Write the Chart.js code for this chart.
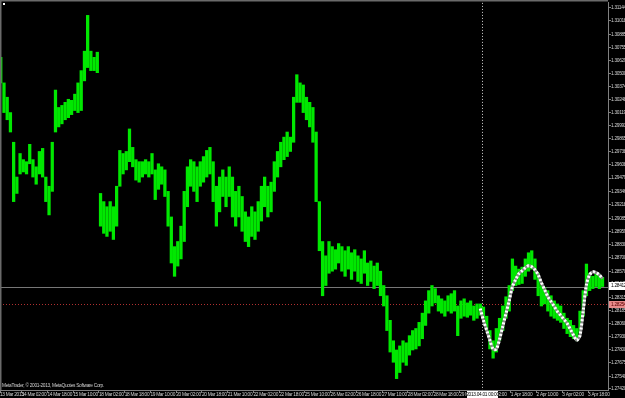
<!DOCTYPE html>
<html><head><meta charset="utf-8">
<script src="https://cdn.jsdelivr.net/npm/chart.js@4.4.0/dist/chart.umd.min.js"></script>
<style>html,body{margin:0;padding:0;background:#000;overflow:hidden}#wrap{position:relative;width:625px;height:398px}</style>
</head><body><div id="wrap"><canvas id="c" width="625" height="398"></canvas></div>
<script>
// ---- data (EURUSD, H1, 2-hour bars) ----
const barStartHour = 3;      // trading-hour index of first bar
const barStepHours = 2;
const highs = [1.3066,1.3041,1.3027,1.3012,1.2983,1.2949,1.2972,1.2966,1.2964,1.2981,
1.2966,1.2959,1.2974,1.2977,1.2949,1.2940,1.2983,1.3034,1.3017,1.3019,
1.3022,1.3025,1.3024,1.3030,1.3041,1.3053,1.3072,1.3107,1.3072,1.3066,
1.3071,1.2933,1.2925,1.2920,1.2925,1.2920,1.2940,1.2975,1.2972,1.2974,
1.2996,1.2978,1.2966,1.2964,1.2964,1.2966,1.2964,1.2972,1.2956,1.2962,
1.2959,1.2956,1.2935,1.2910,1.2881,1.2886,1.2901,1.2935,1.2959,1.2966,
1.2964,1.2959,1.2964,1.2969,1.2975,1.2978,1.2964,1.2940,1.2949,1.2956,
1.2949,1.2959,1.2949,1.2935,1.2940,1.2930,1.2915,1.2910,1.2920,1.2915,
1.2925,1.2940,1.2949,1.2940,1.2944,1.2964,1.2974,1.2983,1.2988,1.2993,
1.2988,1.3027,1.3049,1.3041,1.3039,1.3027,1.3022,1.3017,1.2993,1.2925,
1.2886,1.2872,1.2886,1.2881,1.2878,1.2884,1.2881,1.2877,1.2881,1.2875,
1.2878,1.2872,1.2869,1.2877,1.2865,1.2867,1.2862,1.2865,1.2857,1.2843,
1.2833,1.2809,1.2789,1.2780,1.2784,1.2789,1.2787,1.2794,1.2799,1.2801,
1.2807,1.2816,1.2828,1.2838,1.2843,1.2840,1.2833,1.2830,1.2828,1.2833,
1.2835,1.2838,1.2823,1.2828,1.2830,1.2826,1.2828,1.2823,1.2825,1.2825,
1.2822,1.2813,1.2799,1.2789,1.2801,1.2811,1.2823,1.2832,1.2843,1.2869,
1.2862,1.2859,1.2861,1.2869,1.2875,1.2877,1.2869,1.2855,1.2843,1.2841,
1.2838,1.2833,1.2828,1.2825,1.2823,1.2816,1.2811,1.2809,1.2804,1.2801,
1.2818,1.2838,1.2864,1.2855,1.2852,1.2855,1.2854,1.2851];
const lows = [1.3041,1.3012,1.3005,1.2993,1.2925,1.2933,1.2952,1.2954,1.2952,1.2962,
1.2949,1.2942,1.2952,1.2949,1.2925,1.2912,1.2935,1.2993,1.2998,1.3001,
1.3005,1.3007,1.3010,1.3014,1.3012,1.3014,1.3043,1.3056,1.3053,1.3053,
1.3051,1.2901,1.2894,1.2891,1.2896,1.2888,1.2901,1.2940,1.2952,1.2956,
1.2964,1.2959,1.2946,1.2944,1.2949,1.2952,1.2949,1.2952,1.2927,1.2937,
1.2942,1.2930,1.2901,1.2865,1.2852,1.2862,1.2869,1.2886,1.2920,1.2940,
1.2935,1.2925,1.2940,1.2944,1.2949,1.2952,1.2925,1.2901,1.2915,1.2930,
1.2920,1.2930,1.2910,1.2901,1.2910,1.2896,1.2886,1.2881,1.2891,1.2888,
1.2896,1.2906,1.2920,1.2910,1.2915,1.2935,1.2949,1.2959,1.2966,1.2969,
1.2974,1.2983,1.3022,1.3022,1.3012,1.3005,1.2998,1.2983,1.2925,1.2877,
1.2833,1.2843,1.2855,1.2857,1.2859,1.2865,1.2857,1.2852,1.2859,1.2849,
1.2857,1.2847,1.2845,1.2855,1.2843,1.2847,1.2840,1.2843,1.2833,1.2823,
1.2799,1.2778,1.2768,1.2752,1.2758,1.2768,1.2765,1.2775,1.2780,1.2781,
1.2784,1.2791,1.2804,1.2816,1.2823,1.2826,1.2818,1.2816,1.2813,1.2818,
1.2816,1.2818,1.2794,1.2811,1.2813,1.2812,1.2814,1.2809,1.2811,1.2814,
1.2811,1.2799,1.2781,1.2772,1.2778,1.2789,1.2799,1.2811,1.2818,1.2838,
1.2843,1.2844,1.2845,1.2852,1.2857,1.2859,1.2849,1.2833,1.2823,1.2825,
1.2818,1.2813,1.2811,1.2809,1.2807,1.2801,1.2796,1.2793,1.2791,1.2789,
1.2797,1.2813,1.2833,1.2838,1.2840,1.2842,1.2840,1.2842];
const forecastStartHour = 301;
const forecastStepHours = 2;
const forecast = [1.28205,1.28089,1.27992,1.27895,1.27808,1.27808,1.27905,1.28031,1.28157,1.28283,
1.28419,1.28487,1.28545,1.28574,1.28603,1.28623,1.28613,1.28584,1.28535,1.28458,
1.28390,1.28321,1.28273,1.28225,1.28176,1.28138,1.28099,1.28060,1.28002,1.27943,
1.27895,1.27943,1.28186,1.28438,1.28535,1.28564,1.28555,1.28535,1.28497];
const priceTickLabels = ['1.31144','1.31018','1.30885','1.30755','1.30629','1.30500','1.30374','1.30248','1.30119','1.29993',
'1.29865','1.29738','1.29608','1.29479','1.29346','1.29218','1.29085','1.28959','1.28830','1.28700',
'1.28570','1.28445','1.28315','1.28185','1.28060','1.27930','1.27800','1.27675','1.27540','1.27420'];
const firstTimeLabel = '13 Mar 2013';
const timeTickHours = [16,32,48,64,80,96,112,128,144,160,176,192,208,224,240,256,272,288,304,320,336,352,368];
const timeTickLabels = ['14 Mar 02:00','14 Mar 18:00','15 Mar 10:00','18 Mar 02:00','18 Mar 18:00','19 Mar 10:00',
'20 Mar 02:00','20 Mar 18:00','21 Mar 10:00','22 Mar 02:00','22 Mar 18:00','25 Mar 10:00','26 Mar 02:00',
'26 Mar 18:00','27 Mar 10:00','28 Mar 02:00','28 Mar 18:00','29 Mar 10:00','1 Apr 02:00','1 Apr 18:00',
'2 Apr 10:00','3 Apr 02:00','3 Apr 18:00'];
const separatorHour = 302;
const separatorLabel = '2013.04.01 00:00';
const bidPrice = 1.28412, bidLabel = '1.28412';
const markPrice = 1.28254, markLabel = '1.28254';
const copyright = 'MetaTrader, \u00A9 2001-2013, MetaQuotes Software Corp.';

const FONT = "'Liberation Sans',Arial,sans-serif";
const X_MIN = 2.52, X_MAX = 380.4;
const Y_MAX = 1.31192, Y_MIN = 1.27409;

const overlay = {
  id: 'overlay',
  beforeDraw(chart) {
    chart.ctx.letterSpacing = '-0.3px';
  },
  beforeDatasetsDraw(chart) {
    const {ctx, chartArea: a, scales: {x, y}} = chart;
    ctx.save();
    ctx.lineWidth = 1;
    let py = Math.round(y.getPixelForValue(bidPrice)) + 0.5;
    ctx.strokeStyle = '#777777';
    ctx.beginPath(); ctx.moveTo(a.left, py); ctx.lineTo(a.right, py); ctx.stroke();
    py = Math.round(y.getPixelForValue(markPrice)) + 0.5;
    ctx.strokeStyle = '#b03030'; ctx.setLineDash([1, 2]);
    ctx.beginPath(); ctx.moveTo(a.left, py); ctx.lineTo(a.right, py); ctx.stroke();
    const px = Math.round(x.getPixelForValue(separatorHour)) + 0.5;
    ctx.strokeStyle = '#d0d0d0';
    ctx.beginPath(); ctx.moveTo(px, a.top); ctx.lineTo(px, a.bottom); ctx.stroke();
    ctx.restore();
  },
  afterDraw(chart) {
    const {ctx, chartArea: a, scales: {x, y}} = chart;
    ctx.save();
    ctx.fillStyle = '#6a6a6a';
    ctx.fillRect(0, 0, a.right, 1.5);
    ctx.fillRect(0, 0, 1.5, a.bottom);
    ctx.fillStyle = '#ffffff';
    ctx.fillRect(3, 3, 2, 2);
    ctx.font = '4.8px ' + FONT;
    ctx.textBaseline = 'middle';
    let py = Math.round(y.getPixelForValue(bidPrice));
    ctx.fillStyle = '#ffffff'; ctx.fillRect(a.right + 1, py - 5, 625 - a.right, 8);
    ctx.fillStyle = '#000000'; ctx.textAlign = 'left'; ctx.fillText(bidLabel, a.right + 3, py - 1);
    py = Math.round(y.getPixelForValue(markPrice));
    ctx.fillStyle = '#e88a8a'; ctx.fillRect(a.right + 1, py - 3, 625 - a.right, 7);
    ctx.fillStyle = '#5a0000'; ctx.fillText(markLabel, a.right + 3, py + 0.5);
    const px = Math.round(x.getPixelForValue(separatorHour));
    ctx.fillStyle = '#ffffff'; ctx.fillRect(px - 15, a.bottom + 1, 31, 7);
    ctx.fillStyle = '#000000'; ctx.textAlign = 'center'; ctx.fillText(separatorLabel, px + 0.5, a.bottom + 4.5);
    ctx.fillStyle = '#cfcfcf'; ctx.textAlign = 'left'; ctx.textBaseline = 'alphabetic';
    ctx.fillText(copyright, 2, a.bottom - 3);
    ctx.restore();
  }
};

new Chart(document.getElementById('c'), {
  type: 'bar',
  data: {
    datasets: [
      { type: 'line', order: 0, data: forecast.map((v, k) => ({x: forecastStartHour + k * forecastStepHours, y: v})),
        borderColor: '#ffffff', borderWidth: 3, borderDash: [2, 2], pointRadius: 0, tension: 0.3, borderCapStyle: 'butt' },
      { type: 'line', order: 1, data: forecast.map((v, k) => ({x: forecastStartHour + k * forecastStepHours, y: v})),
        borderColor: '#8a8a8a', borderWidth: 3, pointRadius: 0, tension: 0.3 },
      { type: 'bar', order: 2, data: highs.map((h, k) => ({x: barStartHour + k * barStepHours, y: [lows[k], h]})),
        backgroundColor: '#00e800', borderWidth: 0, borderSkipped: false, barThickness: 2.6, grouped: false }
    ]
  },
  options: {
    responsive: false, animation: false, devicePixelRatio: 1,
    layout: { padding: 0 },
    plugins: { legend: { display: false }, tooltip: { enabled: false } },
    scales: {
      x: {
        type: 'linear', position: 'bottom', min: X_MIN, max: X_MAX, offset: false,
        afterFit: s => { s.height = 8; },
        afterBuildTicks: s => { s.ticks = [{value: X_MIN}].concat(timeTickHours.map(v => ({value: v}))); },
        grid: { drawOnChartArea: false, drawTicks: true, tickLength: 3, color: '#808080', offset: false },
        border: { color: '#808080' },
        ticks: { autoSkip: false, maxRotation: 0, minRotation: 0, align: 'start', padding: -1, color: '#d0d0d0',
          font: { size: 4.8, family: FONT },
          callback: (v, i) => i === 0 ? firstTimeLabel : timeTickLabels[i - 1] }
      },
      y: {
        type: 'linear', position: 'right', min: Y_MIN, max: Y_MAX,
        afterFit: s => { s.width = 17; },
        afterBuildTicks: s => { s.ticks = priceTickLabels.map(t => ({value: parseFloat(t)})); },
        grid: { drawOnChartArea: false, drawTicks: true, tickLength: 3, color: '#808080' },
        border: { color: '#808080' },
        ticks: { autoSkip: false, padding: 0, color: '#d0d0d0', font: { size: 4.8, family: FONT },
          callback: (v, i) => priceTickLabels[i] }
      }
    }
  },
  plugins: [overlay]
});
</script>
</body></html>
